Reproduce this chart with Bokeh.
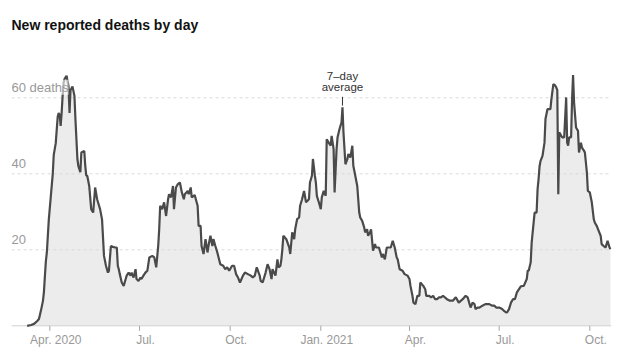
import datetime as dt
import numpy as np
from bokeh.plotting import figure
from bokeh.models import Range1d, ColumnDataSource
from bokeh.core.properties import value
from bokeh.embed import file_html
from bokeh.resources import INLINE

# ---------------- data ----------------
START = dt.datetime(2020, 3, 1)

day_offsets = [
    8, 12, 15, 18, 20, 22, 24, 25, 26, 27, 28, 30, 32, 34, 35, 36, 37, 39, 40, 41,
    42, 43, 44, 45, 46, 48, 50, 51, 52, 54, 56, 57, 59, 60, 62, 63, 66, 67, 68, 69,
    71, 73, 75, 77, 79, 82, 84, 86, 88, 90, 91, 93, 97, 99, 100, 101, 102, 104, 106, 108,
    109, 111, 113, 114, 116, 118, 119, 121, 123, 124, 126, 128, 130, 132, 135, 137, 139, 141, 142, 143,
    145, 147, 149, 151, 152, 154, 156, 157, 159, 161, 163, 165, 167, 168, 171, 172, 174, 175, 178, 181,
    182, 184, 185, 187, 189, 191, 192, 194, 196, 197, 199, 201, 204, 207, 209, 211, 213, 216, 218, 220,
    222, 224, 227, 229, 232, 235, 237, 239, 241, 244, 245, 247, 250, 252, 254, 256, 257, 260, 262, 263,
    265, 266, 267, 268, 271, 274, 275, 277, 279, 280, 282, 284, 285, 287, 289, 291, 294, 295, 297, 298,
    300, 301, 302, 304, 306, 307, 309, 311, 312, 314, 316, 317, 319, 320, 322, 323, 325, 327, 328, 329,
    331, 333, 334, 336, 338, 339, 341, 343, 345, 346, 348, 350, 351, 353, 354, 356, 357, 359, 361, 362,
    365, 368, 369, 371, 373, 374, 377, 379, 381, 383, 384, 386, 389, 391, 394, 396, 397, 399, 400, 402,
    404, 406, 407, 410, 412, 413, 416, 418, 420, 422, 424, 426, 428, 430, 434, 437, 440, 443, 446, 450,
    453, 455, 457, 458, 460, 462, 463, 465, 467, 470, 473, 477, 480, 482, 484, 487, 490, 492, 494, 495,
    497, 499, 501, 503, 505, 507, 509, 512, 515, 516, 517, 519, 520, 522, 523, 525, 526, 527, 528, 529,
    531, 533, 534, 536, 539, 540, 542, 544, 545, 546, 547, 548, 550, 551, 553, 555, 556, 557, 558, 560,
    561, 562, 563, 565, 567, 568, 570, 571, 573, 574, 576, 577, 579, 581, 583, 584, 586, 588, 590, 591,
    593, 595, 596, 597, 599, 600,
]

deaths_7day_avg = [
    0.0, 0.2, 0.5, 1.2, 1.8, 4.0, 6.5, 8.8, 13.0, 17.0, 19.3, 28.0, 34.0, 40.0, 45.0, 46.5, 48.0, 55.0, 56.0, 55.5,
    52.6, 56.0, 60.5, 64.0, 65.0, 65.8, 63.0, 56.0, 62.0, 63.0, 60.5, 54.4, 43.9, 42.0, 40.4, 45.6, 46.0, 42.0, 39.5, 39.5,
    36.8, 30.7, 29.8, 36.4, 33.3, 30.7, 28.0, 18.4, 15.8, 14.0, 14.5, 21.0, 20.6, 20.6, 15.8, 14.9, 13.6, 11.4, 10.5, 12.3,
    13.2, 14.0, 13.2, 14.0, 12.7, 14.9, 12.3, 11.8, 12.7, 12.3, 13.2, 14.0, 14.5, 18.0, 18.4, 18.0, 15.4, 21.0, 25.4, 31.6,
    30.7, 32.5, 28.9, 33.3, 34.6, 33.8, 36.8, 30.7, 36.4, 37.3, 37.7, 35.1, 33.3, 34.6, 35.5, 34.6, 36.4, 33.8, 34.4, 31.6,
    26.3, 26.3, 21.0, 18.9, 22.8, 19.3, 21.0, 23.7, 21.0, 22.8, 21.0, 19.3, 16.2, 15.8, 14.9, 15.4, 14.5, 15.8, 15.8, 13.6,
    12.7, 11.4, 13.2, 14.0, 13.6, 13.2, 12.7, 13.2, 15.4, 13.2, 11.8, 11.4, 14.0, 16.2, 14.9, 12.3, 14.9, 13.2, 17.5, 15.4,
    15.8, 17.5, 20.2, 23.7, 22.8, 20.6, 18.9, 24.6, 22.8, 25.4, 28.1, 28.5, 31.6, 33.3, 35.5, 32.5, 33.3, 37.7, 39.5, 43.9,
    39.5, 37.7, 34.2, 32.5, 30.7, 33.8, 35.5, 34.2, 49.1, 48.2, 47.4, 50.0, 46.5, 35.1, 46.5, 49.6, 51.8, 53.5, 57.5, 50.9,
    42.5, 43.9, 45.2, 44.3, 47.4, 42.1, 39.5, 36.8, 29.8, 28.5, 27.6, 25.9, 24.6, 25.4, 23.7, 24.6, 25.4, 19.8, 21.5, 20.6,
    20.6, 18.0, 18.9, 17.5, 20.6, 20.6, 20.6, 22.4, 20.6, 18.0, 17.5, 14.9, 14.5, 13.6, 13.2, 12.3, 10.5, 7.9, 6.1, 5.7,
    7.9, 7.9, 11.4, 10.5, 9.6, 7.9, 7.9, 7.5, 7.9, 7.0, 7.0, 7.5, 7.5, 7.9, 7.0, 6.6, 6.6, 7.5, 6.1, 7.0,
    7.9, 7.5, 5.7, 4.8, 6.1, 5.7, 4.4, 4.8, 4.8, 5.3, 5.7, 5.7, 5.3, 5.3, 4.8, 4.8, 4.4, 3.9, 3.5, 3.5,
    4.4, 6.1, 7.0, 7.0, 8.8, 9.6, 10.4, 10.5, 12.3, 14.5, 14.5, 16.7, 21.9, 27.2, 29.8, 29.8, 36.0, 38.6, 42.0, 43.4,
    44.7, 48.2, 54.4, 57.0, 57.0, 59.6, 63.6, 63.2, 62.7, 62.0, 34.6, 50.9, 50.0, 49.6, 49.6, 60.1, 48.2, 47.4, 49.6, 49.6,
    59.6, 66.0, 58.8, 52.2, 51.3, 45.6, 48.2, 46.9, 46.1, 45.6, 40.4, 35.5, 35.1, 32.5, 28.1, 27.2, 26.3, 25.0, 23.7, 21.5,
    21.0, 20.6, 21.5, 22.4, 20.6, 20.2,
]

x_tick_dates = ["2020-04-01", "2020-07-01", "2020-10-01", "2021-01-01",
                "2021-04-01", "2021-07-01", "2021-10-01"]
x_tick_labels = ["Apr. 2020", "Jul.", "Oct.", "Jan. 2021", "Apr.", "Jul.", "Oct."]

y_tick_values = [20, 40, 60]
y_tick_labels = ["20", "40", "60 deaths"]

title_text = "New reported deaths by day"
annotation_lines = ["7\u2013day", "average"]

# ---------------- layout constants ----------------
W, H = 621, 352
BORDER_LEFT, BORDER_RIGHT, BORDER_TOP, BORDER_BOTTOM = 11, 10, 0, 0
ZERO_Y = 325.3             # canvas y of the zero line
PX_PER_UNIT = 3.8          # vertical pixels per death
TITLE_Y = 24.5             # canvas y of the title's middle
frame_top = BORDER_TOP
frame_bottom = H - BORDER_BOTTOM


def px(n):
    return n / PX_PER_UNIT


dates = [START + dt.timedelta(days=d) for d in day_offsets]
vals = np.array(deaths_7day_avg)
tick_dt = [dt.datetime.fromisoformat(s) for s in x_tick_dates]

x_start = dt.datetime(2020, 2, 22, 3)
x_end = dt.datetime(2021, 10, 23, 0)

p = figure(
    width=W, height=H,
    x_range=Range1d(x_start, x_end),
    y_range=Range1d((ZERO_Y - frame_bottom) / PX_PER_UNIT,
                    (ZERO_Y - frame_top) / PX_PER_UNIT),
    x_axis_type=None, y_axis_type=None,
    output_backend="svg", toolbar_location=None,
    min_border_left=BORDER_LEFT, min_border_right=BORDER_RIGHT,
    min_border_top=BORDER_TOP, min_border_bottom=BORDER_BOTTOM,
)
p.outline_line_color = None
p.background_fill_color = "white"
p.border_fill_color = "white"

src = ColumnDataSource(dict(date=dates, v=vals))

# title
p.text(x=[x_start], y=[(ZERO_Y - TITLE_Y) / PX_PER_UNIT], text=[title_text],
       text_font=value("Liberation Sans"), text_font_size="14px", text_font_style="bold",
       text_color="#121212", text_align="left", text_baseline="middle")

# area fill
p.varea(x="date", y1=0, y2="v", source=src, fill_color="#ececec")

# dashed gridlines
p.segment(x0=[x_start] * len(y_tick_values), x1=[x_end] * len(y_tick_values),
          y0=y_tick_values, y1=y_tick_values,
          line_color="#d9d9d9", line_width=1, line_dash="3 3")

# baseline
p.segment(x0=[x_start], x1=[x_end], y0=[0], y1=[0], line_color="#d0d0d0", line_width=1)

# x tick marks
p.segment(x0=tick_dt, x1=tick_dt, y0=[0] * len(tick_dt), y1=[-px(5)] * len(tick_dt),
          line_color="#a6a6a6", line_width=1)

# data line
p.line(x="date", y="v", source=src, line_color="#4a4a4a", line_width=2.2)

# x tick labels
p.text(x=tick_dt, y=[-px(14)] * len(tick_dt), text=x_tick_labels,
       text_font=value("Liberation Sans"), text_font_size="12px", text_color="#999999",
       text_align="center", text_baseline="middle", x_offset=6)

# y labels
p.text(x=[x_start] * len(y_tick_values), y=[v + px(10.5) for v in y_tick_values],
       text=y_tick_labels, text_font=value("Liberation Sans"), text_font_size="13px",
       text_color="#999999", text_align="left", text_baseline="middle",
       background_fill_color="white", background_fill_alpha=0.6)

# 7-day average annotation at winter peak
win = [(d >= dt.datetime(2020, 12, 1)) and (d <= dt.datetime(2021, 3, 1)) for d in dates]
idx = [i for i, w in enumerate(win) if w]
pk = max(idx, key=lambda i: vals[i])
pk_x, pk_v = dates[pk], vals[pk]
p.segment(x0=[pk_x], x1=[pk_x], y0=[pk_v + px(1.7)], y1=[pk_v + px(10.5)],
          line_color="#333333", line_width=1)
p.text(x=[pk_x, pk_x], y=[pk_v + px(31.5), pk_v + px(20)], text=annotation_lines,
       text_font=value("Liberation Sans"), text_font_size="11.5px", text_color="#333333",
       text_align="center", text_baseline="middle")

open("out.html", "w").write(file_html(p, INLINE))
